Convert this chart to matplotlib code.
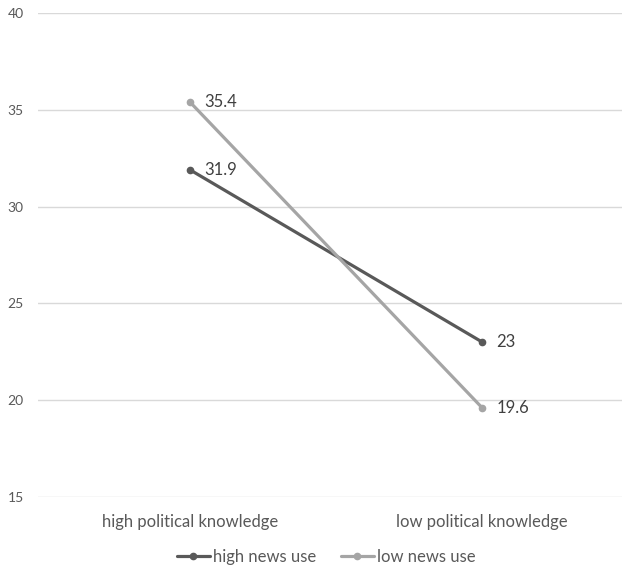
import matplotlib.pyplot as plt

categories = ["high political knowledge", "low political knowledge"]
series_names = ["high news use", "low news use"]
high_news = [31.9, 23]
low_news = [35.4, 19.6]
y_ticks = [15, 20, 25, 30, 35, 40]

colors = ["#595959", "#A5A5A5"]
plt.rcParams['font.family'] = ['Lato', 'DejaVu Sans']

fig = plt.figure(figsize=(6.22, 5.69), dpi=100)
ax = fig.add_axes([38 / 622, 1 - 497 / 569, (622 - 38) / 622, (497 - 13) / 569])

x = list(range(len(categories)))
for vals, name, c in zip([high_news, low_news], series_names, colors):
    ax.plot(x, vals, color=c, lw=2.3, marker='o', markersize=4.5, label=name,
            solid_capstyle='round')
    for xi, v in zip(x, vals):
        ax.annotate(f"{v:g}", (xi, v), xytext=(10, 0), textcoords='offset points',
                    va='center', ha='left', fontsize=12, color='#404040')

ax.set_xlim(-0.52, 1.478)
ax.set_ylim(15, 40)
ax.set_yticks(y_ticks)
ax.set_xticks(x)
ax.set_xticklabels(categories, fontsize=12)
ax.grid(axis='y', color='#D9D9D9', lw=1)
ax.set_axisbelow(True)
for s in ax.spines.values():
    s.set_visible(False)
ax.tick_params(axis='both', length=0, colors='#595959')
ax.tick_params(axis='y', pad=22, labelsize=10)
ax.tick_params(axis='x', pad=12)
for lbl in ax.get_yticklabels():
    lbl.set_ha('left')
    lbl.set_x(0)

leg = fig.legend(loc='center', bbox_to_anchor=(326 / 622, 1 - 557 / 569), ncol=2, frameon=False,
                 fontsize=12, handlelength=2.0, handletextpad=0.15, columnspacing=1.5,
                 labelcolor='#595959')

fig.savefig("out.png", dpi=100, facecolor='white')
